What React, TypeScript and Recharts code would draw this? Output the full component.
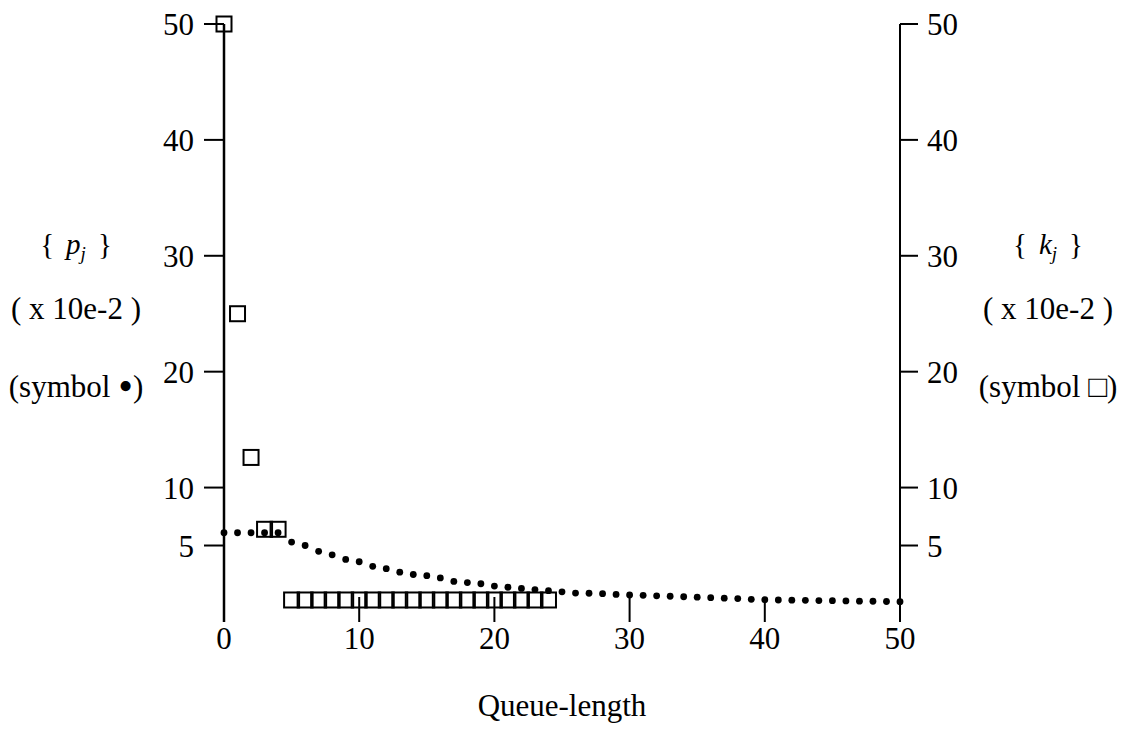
import { ScatterChart, Scatter, XAxis, YAxis, Label } from 'recharts';

// queue-length j = 0..50, values in units of 10e-2
const pjValues = [
  6.1, 6.1, 6.1, 6.1, 6.1, 5.3, 5.0, 4.5, 4.2, 3.8,
  3.6, 3.2, 3.0, 2.7, 2.5, 2.4, 2.2, 1.9, 1.8, 1.7,
  1.5, 1.4, 1.3, 1.2, 1.1, 1.0, 0.9, 0.88, 0.84, 0.78,
  0.73, 0.7, 0.66, 0.62, 0.58, 0.54, 0.5, 0.46, 0.42, 0.36,
  0.32, 0.3, 0.28, 0.27, 0.25, 0.24, 0.22, 0.2, 0.19, 0.17,
  0.15,
];

// j = 0..24
const kjValues = [
  50, 25, 12.6, 6.4, 6.4, 0.3, 0.3, 0.3, 0.3, 0.3,
  0.3, 0.3, 0.3, 0.3, 0.3, 0.3, 0.3, 0.3, 0.3, 0.3,
  0.3, 0.3, 0.3, 0.3, 0.3,
];

const xTicks = [0, 10, 20, 30, 40, 50];
const yTicks = [5, 10, 20, 30, 40, 50];
const yDomain = [-1.6, 50];

const pjData = pjValues.map((y, j) => ({ x: j, y }));
const kjData = kjValues.map((y, j) => ({ x: j, y }));

const FONT = '"Liberation Serif", "Times New Roman", serif';

const Dot = (props: any) => <circle cx={props.cx} cy={props.cy} r={3.4} fill="#000" />;

const Box = (props: any) => (
  <rect x={props.cx - 7.5} y={props.cy - 7.5} width={15} height={15} fill="none" stroke="#000" strokeWidth={2} />
);

const XTick = (props: any) => {
  const { x, y, payload } = props;
  return (
    <g>
      <line x1={x} y1={y} x2={x} y2={y - 25} stroke="#000" strokeWidth={2} />
      <text x={x} y={y + 27} textAnchor="middle" fontSize={31} fontFamily={FONT} fill="#000">
        {payload.value}
      </text>
    </g>
  );
};

const SideLabel = ({ cx, sym, letter, symSize, symDy }: { cx: number; sym: string; letter: string; symSize: number; symDy: number }) => (
  <g fontFamily={FONT} fill="#000">
    <text x={cx} y={254} textAnchor="middle" fontSize={29}>
      {'{'}
      <tspan dx={12} fontStyle="italic">{letter}</tspan>
      <tspan fontStyle="italic" fontSize={19} dy={6}>j</tspan>
      <tspan dx={12} dy={-6}>{'}'}</tspan>
    </text>
    <text x={cx} y={319} textAnchor="middle" fontSize={31} style={{ whiteSpace: 'pre' }}>
      {'( x 10e-2 )'}
    </text>
    <text x={cx} y={397} textAnchor="middle" fontSize={31}>
      {'(symbol '}
      <tspan fontSize={symSize} dy={symDy}>{sym}</tspan>
      <tspan dy={-symDy}>{')'}</tspan>
    </text>
  </g>
);

export default function App() {
  return (
    <div>
      <style>{'body{margin:0;background:#fff}'}</style>
      <ScatterChart width={1127} height={731} margin={{ top: 24, right: 127, left: 124, bottom: 9 }}>
        <XAxis
          dataKey="x"
          type="number"
          domain={[0, 50]}
          ticks={xTicks}
          axisLine={false}
          tickLine={false}
          tickSize={0}
          tickMargin={0}
          height={100}
          tick={<XTick />}
          interval={0}
        >
          <Label
            content={() => (
              <text x={562} y={716} textAnchor="middle" fontSize={31} fontFamily={FONT} fill="#000">
                Queue-length
              </text>
            )}
          />
        </XAxis>
        <YAxis
          yAxisId="p"
          dataKey="y"
          type="number"
          domain={yDomain}
          ticks={yTicks}
          interval={0}
          width={100}
          axisLine={{ stroke: '#000', strokeWidth: 2.5 }}
          tickLine={{ stroke: '#000', strokeWidth: 2 }}
          tickSize={20}
          tickMargin={10}
          tick={{ fill: '#000', fontSize: 31, fontFamily: FONT }}
        >
          <Label content={() => <SideLabel cx={76} sym="•" letter="p" symSize={42} symDy={3} />} />
        </YAxis>
        <YAxis
          yAxisId="k"
          orientation="right"
          dataKey="y"
          type="number"
          domain={yDomain}
          ticks={yTicks}
          interval={0}
          width={100}
          axisLine={{ stroke: '#000', strokeWidth: 2 }}
          tickLine={{ stroke: '#000', strokeWidth: 2 }}
          tickSize={18}
          tickMargin={9}
          tick={{ fill: '#000', fontSize: 31, fontFamily: FONT, textAnchor: 'start' }}
        >
          <Label content={() => <SideLabel cx={1048} sym="□" letter="k" symSize={31} symDy={0} />} />
        </YAxis>
        <Scatter yAxisId="p" data={pjData} shape={Dot} isAnimationActive={false} />
        <Scatter yAxisId="k" data={kjData} shape={Box} isAnimationActive={false} />
      </ScatterChart>
    </div>
  );
}
